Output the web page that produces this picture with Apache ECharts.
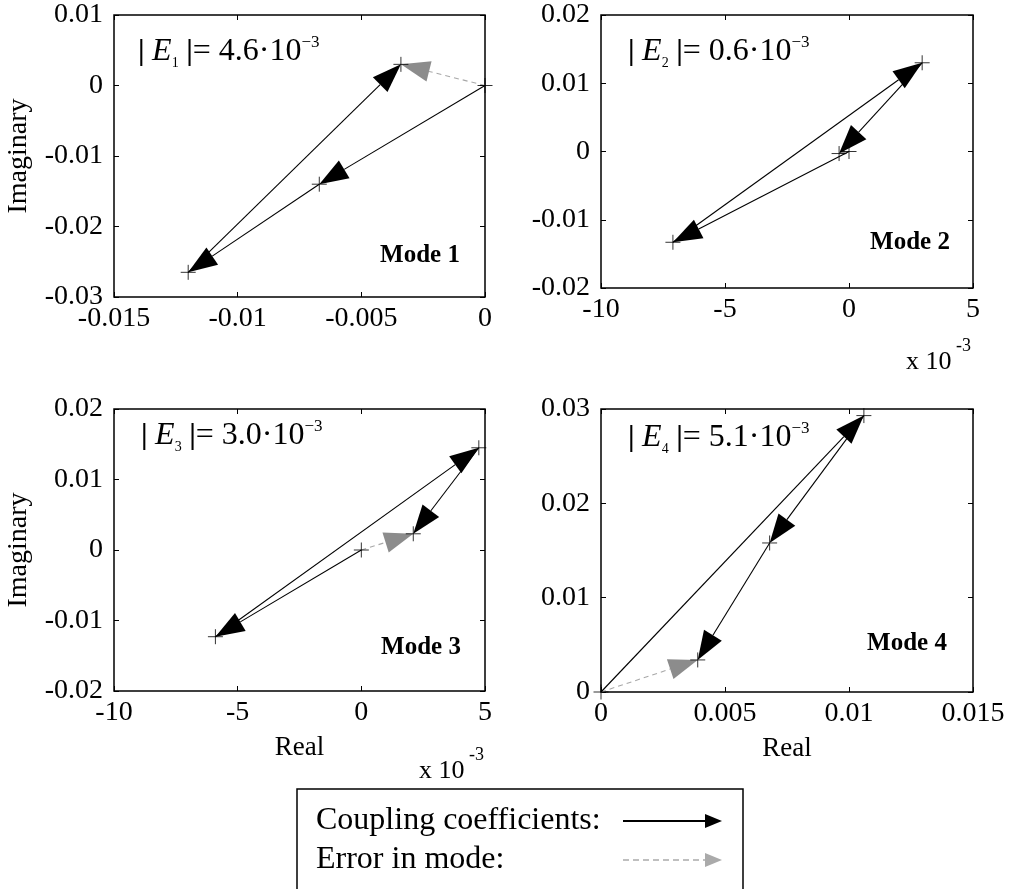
<!DOCTYPE html>
<html>
<head>
<meta charset="utf-8">
<title>Coupling coefficients</title>
<script src="https://cdn.jsdelivr.net/npm/echarts@6/dist/echarts.min.js"></script>
<style>
html, body { margin: 0; padding: 0; background: #fff; }
#main { width: 1015px; height: 889px; }
</style>
</head>
<body>
<div id="main"></div>
<script>
// chain of coupling coefficients, starts at origin, last point is the mode error
var mode1Re = [0, -0.0067, -0.0120, -0.0034];
var mode1Im = [0, -0.0140, -0.0265, 0.0030];
var mode2Re = [0, -7.1, 2.95, -0.4];      // x 10^-3
var mode2Im = [0, -0.0133, 0.0130, -0.0003];
var mode3Re = [0, -5.9, 4.75, 2.1];       // x 10^-3
var mode3Im = [0, -0.0123, 0.0145, 0.0023];
var mode4Re = [0, 0.0106, 0.0068, 0.0039];
var mode4Im = [0, 0.0293, 0.0158, 0.0034];

var xMin = [-0.015, -10, -10, 0];
var xMax = [0, 5, 5, 0.015];
var xStep = [0.005, 5, 5, 0.005];
var yMin = [-0.03, -0.02, -0.02, 0];
var yMax = [0.01, 0.02, 0.02, 0.03];
var yStep = [0.01, 0.01, 0.01, 0.01];

var errValues = ['4.6', '0.6', '3.0', '5.1'];
var modeNames = ['Mode 1', 'Mode 2', 'Mode 3', 'Mode 4'];
var legendNames = ['Coupling coefficients:', 'Error in mode:'];

var chart = echarts.init(document.getElementById('main'));
var serif = "'Liberation Serif', 'Times New Roman', serif";

var modesRe = [mode1Re, mode2Re, mode3Re, mode4Re];
var modesIm = [mode1Im, mode2Im, mode3Im, mode4Im];

var grids = [
    {left: 114, top: 15, width: 371, height: 282},
    {left: 601, top: 15, width: 372, height: 273},
    {left: 114, top: 409, width: 371, height: 282},
    {left: 601, top: 409, width: 372, height: 283}
];

function arrowRender(color, headColor, dashed) {
    return function (params, api) {
        var a = api.coord([api.value(0), api.value(1)]);
        var b = api.coord([api.value(2), api.value(3)]);
        var dx = b[0] - a[0], dy = b[1] - a[1];
        var len = Math.sqrt(dx * dx + dy * dy);
        if (len < 1) return;
        var ux = dx / len, uy = dy / len;
        var hl = Math.min(29, len * 0.6);
        var hw = hl * 0.36;
        var bx = b[0] - ux * hl, by = b[1] - uy * hl;
        return {
            type: 'group',
            children: [{
                type: 'line',
                shape: {x1: a[0], y1: a[1], x2: bx, y2: by},
                style: {stroke: color, lineWidth: 1.1, lineDash: dashed ? [5, 4] : null}
            }, {
                type: 'polygon',
                shape: {points: [[b[0], b[1]], [bx - uy * hw, by + ux * hw], [bx + uy * hw, by - ux * hw]]},
                style: {fill: headColor}
            }]
        };
    };
}

var xAxes = [], yAxes = [], series = [], gridOpts = [];
grids.forEach(function (g, i) {
    gridOpts.push({
        left: g.left, top: g.top, width: g.width, height: g.height,
        show: true, borderColor: '#000', borderWidth: 1.5, backgroundColor: '#fff',
        containLabel: false, outerBoundsMode: 'none'
    });
    var tick = {inside: true, length: 5, lineStyle: {color: '#000', width: 1}};
    var line = {show: false, onZero: false};
    var label = {color: '#000', fontFamily: serif, fontSize: 28};
    xAxes.push({
        gridIndex: i, type: 'value', position: 'bottom',
        min: xMin[i], max: xMax[i], interval: xStep[i],
        axisLine: line, splitLine: {show: false}, axisTick: tick,
        axisLabel: Object.assign({margin: 8}, label),
        name: i >= 2 ? 'Real' : '', nameLocation: 'middle', nameGap: 43,
        nameTextStyle: {color: '#000', fontFamily: serif, fontSize: 27}
    });
    xAxes.push({
        gridIndex: i, type: 'value', position: 'top',
        min: xMin[i], max: xMax[i], interval: xStep[i],
        axisLine: line, splitLine: {show: false}, axisTick: tick,
        axisLabel: {show: false}
    });
    yAxes.push({
        gridIndex: i, type: 'value', position: 'left',
        min: yMin[i], max: yMax[i], interval: yStep[i],
        axisLine: line, splitLine: {show: false}, axisTick: tick,
        axisLabel: Object.assign({margin: 11}, label),
        name: i % 2 === 0 ? 'Imaginary' : '', nameLocation: 'middle', nameGap: 81, nameRotate: 90,
        nameTextStyle: {color: '#000', fontFamily: serif, fontSize: 28}
    });
    yAxes.push({
        gridIndex: i, type: 'value', position: 'right',
        min: yMin[i], max: yMax[i], interval: yStep[i],
        axisLine: line, splitLine: {show: false}, axisTick: tick,
        axisLabel: {show: false}
    });

    var re = modesRe[i], im = modesIm[i];
    var last = re.length - 1;
    var segs = [];
    for (var k = 0; k < last; k++) {
        segs.push([re[k], im[k], re[k + 1], im[k + 1]]);
    }
    var pts = re.map(function (v, k) { return [v, im[k]]; });

    series.push({
        type: 'custom', xAxisIndex: 2 * i, yAxisIndex: 2 * i, silent: true,
        renderItem: arrowRender('#a8a8a8', '#8c8c8c', true),
        encode: {x: [0, 2], y: [1, 3]},
        data: [[re[0], im[0], re[last], im[last]]]
    });
    series.push({
        type: 'custom', xAxisIndex: 2 * i, yAxisIndex: 2 * i, silent: true,
        renderItem: arrowRender('#000', '#000', false),
        encode: {x: [0, 2], y: [1, 3]},
        data: segs
    });
    series.push({
        type: 'scatter', xAxisIndex: 2 * i, yAxisIndex: 2 * i, silent: true,
        symbol: 'path://M5,0L5,10M0,5L10,5', symbolSize: 15,
        itemStyle: {color: 'transparent', borderColor: '#000', borderWidth: 1},
        data: pts
    });
});

var errPos = [[138, 52], [628, 52], [141, 436], [628, 438]];
var modePos = [[420, 256], [910, 243], [421, 648], [907, 644]];
var graphics = [];
errPos.forEach(function (p, i) {
    graphics.push({
        type: 'text', x: p[0], y: p[1], z: 10,
        style: {
            text: '{b|| }{e|E}{s|' + (i + 1) + '}{b| |}{n|= ' + errValues[i] + '\u00b710}{p|\u22123}',
            verticalAlign: 'middle',
            rich: {
                b: {fontFamily: serif, fontSize: 30, fontWeight: 'bold', lineHeight: 36, fill: '#000'},
                e: {fontFamily: serif, fontSize: 32, fontStyle: 'italic', lineHeight: 36, fill: '#000'},
                s: {fontFamily: serif, fontSize: 14, lineHeight: 12, verticalAlign: 'bottom', fill: '#000'},
                n: {fontFamily: serif, fontSize: 32, lineHeight: 36, fill: '#000'},
                p: {fontFamily: serif, fontSize: 17, lineHeight: 17, verticalAlign: 'top', fill: '#000'}
            }
        }
    });
});
modePos.forEach(function (p, i) {
    graphics.push({
        type: 'text', x: p[0], y: p[1], z: 10,
        style: {text: modeNames[i], font: 'bold 25px ' + serif, fill: '#000', align: 'center', verticalAlign: 'middle'}
    });
});
[[906, 362], [419, 771]].forEach(function (p) {
    graphics.push({type: 'text', x: p[0], y: p[1], style: {text: 'x 10', font: '26px ' + serif, fill: '#000', verticalAlign: 'middle'}});
    graphics.push({type: 'text', x: p[0] + 50, y: p[1] - 16, style: {text: '-3', font: '18px ' + serif, fill: '#000', verticalAlign: 'middle'}});
});

// legend box
graphics.push({
    type: 'rect', shape: {x: 297, y: 789, width: 446, height: 140},
    style: {fill: '#fff', stroke: '#000', lineWidth: 1.5}
});
graphics.push({type: 'text', x: 316, y: 821, style: {text: legendNames[0], font: '32px ' + serif, fill: '#000', verticalAlign: 'middle'}});
graphics.push({type: 'text', x: 316, y: 860, style: {text: legendNames[1], font: '32px ' + serif, fill: '#000', verticalAlign: 'middle'}});
graphics.push({type: 'line', shape: {x1: 623, y1: 821, x2: 708, y2: 821}, style: {stroke: '#000', lineWidth: 1.8}});
graphics.push({type: 'polygon', shape: {points: [[722, 821], [705, 814], [705, 828]]}, style: {fill: '#000'}});
graphics.push({type: 'line', shape: {x1: 623, y1: 860, x2: 708, y2: 860}, style: {stroke: '#aaa', lineWidth: 1.5, lineDash: [6, 4]}});
graphics.push({type: 'polygon', shape: {points: [[722, 860], [705, 853], [705, 867]]}, style: {fill: '#aaa'}});

chart.setOption({
    backgroundColor: '#fff',
    animation: false,
    grid: gridOpts,
    xAxis: xAxes,
    yAxis: yAxes,
    series: series,
    graphic: graphics
});
</script>
</body>
</html>
